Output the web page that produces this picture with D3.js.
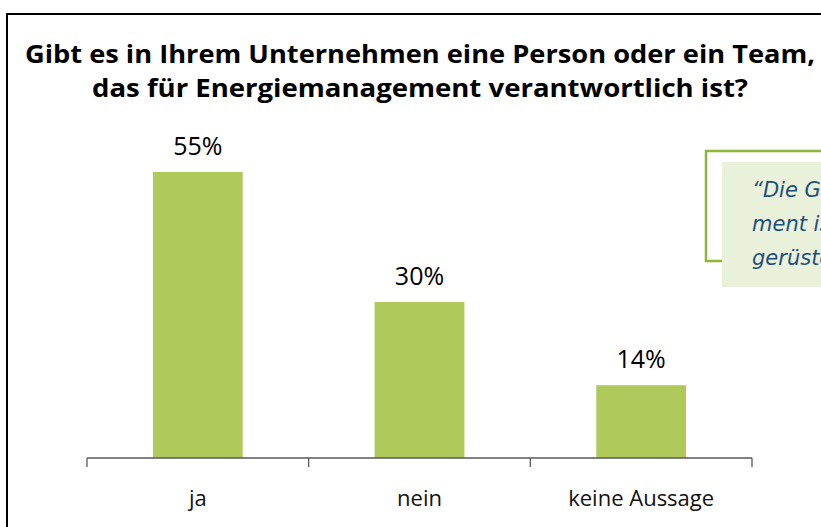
<!DOCTYPE html>
<html>
<head>
<meta charset="utf-8">
<script src="https://cdn.jsdelivr.net/npm/d3@7"></script>
<style>
  html, body { margin: 0; padding: 0; background: #fff; overflow: hidden; }
  svg { display: block; font-family: 'Open Sans', 'Noto Sans', sans-serif; }
</style>
</head>
<body>
<svg></svg>
<script>
  const categories = ['ja', 'nein', 'keine Aussage'];
  const values = [55, 30, 14];
  const titleLines = [
    'Gibt es in Ihrem Unternehmen eine Person oder ein Team,',
    'das für Energiemanagement verantwortlich ist?'
  ];
  const quoteLines = ['\u201CDie Geschäfts-', 'ment ist gut', 'gerüstet.\u201D'];

  const width = 821;
  const height = 527;

  const svg = d3.select('svg')
      .attr('width', width)
      .attr('height', height);

  // frame
  svg.append('path')
      .attr('d', `M7,${height} V14 H${width}`)
      .attr('fill', 'none')
      .attr('stroke', '#000')
      .attr('stroke-width', 2);

  const titleLen = [790, 656];
  svg.append('g').selectAll('text').data(titleLines)
    .enter().append('text')
      .attr('x', 420)
      .attr('y', (d, i) => 63 + i * 34)
      .attr('text-anchor', 'middle')
      .attr('font-size', 25)
      .attr('font-weight', 'bold')
      .attr('fill', '#000')
      .attr('textLength', (d, i) => titleLen[i])
      .attr('lengthAdjust', 'spacingAndGlyphs')
      .text(d => d);

  const x = d3.scaleBand()
      .domain(categories)
      .range([87, 752])
      .paddingInner(0.595)
      .paddingOuter(0.2975);

  const y = d3.scaleLinear()
      .domain([0, 55])
      .range([458, 172]);

  const g = svg.append('g');

  g.selectAll('rect').data(values)
    .enter().append('rect')
      .attr('x', (d, i) => x(categories[i]))
      .attr('y', d => y(d))
      .attr('width', x.bandwidth())
      .attr('height', d => y(0) - y(d))
      .attr('fill', '#afca5b');

  g.selectAll('text.val').data(values)
    .enter().append('text')
      .attr('class', 'val')
      .attr('x', (d, i) => x(categories[i]) + x.bandwidth() / 2)
      .attr('y', d => y(d) - 17)
      .attr('text-anchor', 'middle')
      .attr('font-size', 25)
      .attr('fill', '#000')
      .text(d => d + '%');

  // axis with ticks on band boundaries
  const ticks = d3.range(categories.length + 1).map(i => 87 + i * (752 - 87) / categories.length);
  g.append('line')
      .attr('x1', 87).attr('x2', 752)
      .attr('y1', 458).attr('y2', 458)
      .attr('stroke', '#595959')
      .attr('stroke-width', 1.3);
  g.selectAll('line.tick').data(ticks)
    .enter().append('line')
      .attr('class', 'tick')
      .attr('x1', d => d).attr('x2', d => d)
      .attr('y1', 458).attr('y2', 467)
      .attr('stroke', '#595959')
      .attr('stroke-width', 1.3);

  g.selectAll('text.cat').data(categories)
    .enter().append('text')
      .attr('class', 'cat')
      .attr('x', d => x(d) + x.bandwidth() / 2)
      .attr('y', 506)
      .attr('text-anchor', 'middle')
      .attr('font-size', 22)
      .attr('fill', '#111')
      .text(d => d);

  // quote box (cut off at the right edge)
  svg.append('path')
      .attr('d', `M${width},151 H706 V261 H722`)
      .attr('fill', 'none')
      .attr('stroke', '#8cb834')
      .attr('stroke-width', 2.5);
  svg.append('rect')
      .attr('x', 722).attr('y', 162)
      .attr('width', width - 722).attr('height', 125)
      .attr('fill', '#e9f1da');
  svg.append('g').selectAll('text').data(quoteLines)
    .enter().append('text')
      .attr('x', 752)
      .attr('y', (d, i) => 197 + i * 34)
      .attr('font-family', "'DejaVu Sans', sans-serif")
      .attr('font-size', 21)
      .attr('font-style', 'italic')
      .attr('fill', '#1d4f7c')
      .text(d => d);
</script>
</body>
</html>
